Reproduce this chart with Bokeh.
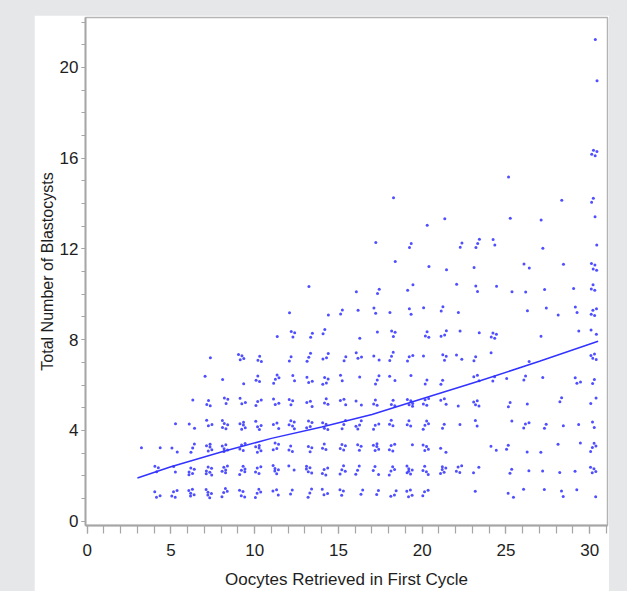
from bokeh.plotting import figure
from bokeh.models import SingleIntervalTicker, Range1d, ColumnDataSource
from bokeh.layouts import column
from bokeh.embed import file_html
from bokeh.resources import INLINE

# ---- data ----
# oocytes retrieved (x, integer); for each, the number of patients at
# blastocyst count 1, 2, 3, ... (index 0 -> 1 blastocyst)
oocytes = list(range(3, 31))
blast_counts = [
    [0, 0, 1],                                              # 3
    [3, 3, 1],                                              # 4
    [4, 2, 2, 1],                                           # 5
    [5, 5, 3, 2, 1],                                        # 6
    [5, 6, 5, 3, 3, 1, 1],                                  # 7
    [4, 5, 5, 5, 3, 1],                                     # 8
    [4, 5, 4, 5, 3, 1, 4],                                  # 9
    [4, 4, 5, 4, 3, 3, 3],                                  # 10
    [3, 5, 4, 3, 3, 4, 0, 1],                               # 11
    [2, 2, 3, 5, 3, 2, 2, 3, 1],                            # 12
    [3, 5, 3, 4, 3, 3, 3, 2, 0, 1],                         # 13
    [3, 4, 3, 4, 3, 4, 3, 2, 1],                            # 14
    [3, 4, 4, 3, 3, 2, 2, 0, 2],                            # 15
    [2, 3, 3, 4, 2, 1, 3, 1, 1, 1],                         # 16
    [2, 3, 5, 3, 3, 3, 2, 1, 2, 2, 0, 1],                   # 17
    [3, 4, 4, 3, 3, 2, 3, 3, 1, 0, 1, 0, 0, 1],             # 18
    [4, 6, 1, 3, 5, 1, 3, 0, 2, 2, 0, 2],                   # 19
    [3, 4, 4, 4, 4, 2, 1, 3, 1, 0, 1, 0, 1],                # 20
    [0, 5, 2, 2, 3, 2, 3, 3, 2, 0, 1, 0, 1],                # 21
    [0, 4, 0, 1, 1, 0, 2, 1, 1, 1, 0, 2],                   # 22
    [1, 2, 0, 2, 4, 3, 2, 1, 0, 2, 1, 3],                   # 23
    [0, 0, 2, 0, 0, 2, 1, 4, 0, 1, 0, 2],                   # 24
    [2, 2, 2, 1, 2, 1, 0, 0, 0, 1, 0, 0, 1, 0, 1],          # 25
    [1, 1, 1, 3, 1, 2, 1, 0, 1, 1, 2],                      # 26
    [1, 1, 1, 2, 0, 1, 0, 1, 1, 1, 0, 1, 1],                # 27
    [2, 1, 1, 1, 2, 0, 0, 0, 1, 0, 1, 0, 0, 1],             # 28
    [1, 1, 1, 1, 0, 3, 0, 1, 2, 1],                         # 29
    [1, 4, 4, 2, 2, 2, 4, 2, 4, 3, 4, 1, 1, 2, 0, 4, 0, 0, 1, 0, 1],  # 30
]

# fitted curve
fit_x = [3, 5, 8, 11, 14, 17, 20, 23.5, 27, 30.5]
fit_y = [1.9, 2.4, 3.05, 3.65, 4.15, 4.7, 5.4, 6.2, 7.05, 7.93]

x_ticks_interval = 5
y_ticks_interval = 4

# ---- expand counts into points, with a fixed (non-random) display jitter ----
px, py = [], []
k = 0
for xo, counts in zip(oocytes, blast_counts):
    for i, c in enumerate(counts):
        yb = i + 1
        for _ in range(c):
            jx = 0.03 + 0.42 * ((0.5 + k * 0.7548776662) % 1.0)
            jy = 0.03 + 0.42 * ((0.5 + k * 0.5698402910) % 1.0)
            px.append(xo + jx)
            py.append(yb + jy)
            k += 1

src = ColumnDataSource(dict(x=px, y=py))

FONT = "Liberation Sans"
TXT = "#1e1e1e"
AX = "#a6a6a6"

p = figure(width=575, height=576,
           x_range=Range1d(-0.1, 31.06), y_range=Range1d(-0.19, 22.2),
           output_backend="svg", toolbar_location=None,
           min_border_left=51, min_border_right=2, min_border_top=2,
           min_border_bottom=64,
           border_fill_color="white", background_fill_color="white",
           outline_line_color="#b4b4b4", outline_line_width=1.5)

p.scatter("x", "y", source=src, size=3.0, fill_color="#3030ff",
          line_color=None, fill_alpha=0.85)
p.line(fit_x, fit_y, line_color="#3333ff", line_width=1.5)

p.grid.visible = False

p.xaxis.ticker = SingleIntervalTicker(interval=x_ticks_interval, num_minor_ticks=5)
p.yaxis.ticker = SingleIntervalTicker(interval=y_ticks_interval, num_minor_ticks=4)

p.xaxis.axis_label = "Oocytes Retrieved in First Cycle"
p.yaxis.axis_label = "Total Number of Blastocysts"

for ax in (p.xaxis[0], p.yaxis[0]):
    ax.axis_line_color = AX
    ax.axis_line_width = 1.8
    ax.major_tick_line_color = AX
    ax.minor_tick_line_color = AX
    ax.major_tick_line_width = 1.2
    ax.minor_tick_line_width = 1.2
    ax.major_label_text_font = FONT
    ax.major_label_text_font_size = "17px"
    ax.major_label_text_color = TXT
    ax.axis_label_text_font = FONT
    ax.axis_label_text_font_style = "normal"
    ax.axis_label_text_color = TXT

p.xaxis.axis_label_text_font_size = "17px"
p.yaxis.axis_label_text_font_size = "16px"

p.xaxis.major_tick_out = 8
p.xaxis.minor_tick_out = 8
p.xaxis.major_tick_in = 0
p.xaxis.minor_tick_in = 0
p.xaxis.major_label_standoff = 10
p.xaxis.axis_label_standoff = 11

p.yaxis.major_tick_out = 4
p.yaxis.minor_tick_out = 4
p.yaxis.major_tick_in = 0
p.yaxis.minor_tick_in = 0
p.yaxis.major_label_standoff = 3
p.yaxis.axis_label_standoff = 1

layout = column(p, styles={"background-color": "#e6e7e8",
                           "padding": "15px 18px 0px 34px"})

open("out.html", "w").write(file_html(layout, INLINE))
